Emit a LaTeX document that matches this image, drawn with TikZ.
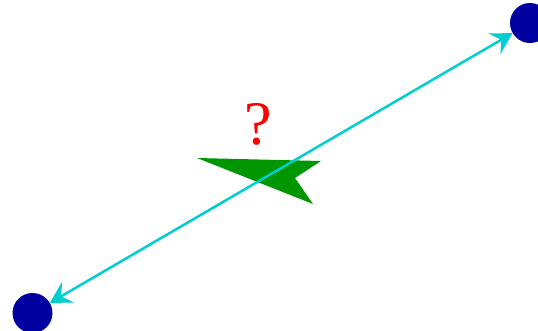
\documentclass[tikz,border=0pt]{standalone}
\usepackage{fontspec}
\usetikzlibrary{arrows.meta}
\newfontfamily\qfont{Liberation Serif}
\definecolor{dotblue}{HTML}{0000A0}
\definecolor{linkcyan}{HTML}{00CED1}
\definecolor{headgreen}{HTML}{009600}

\begin{document}
\begin{tikzpicture}[
  x=1pt, y=-1pt,
  dot/.style={circle, fill=dotblue, minimum size=40pt, inner sep=0pt},
  tip/.tip={Stealth[length=21pt,width=24pt,inset=8pt]},
  link/.style={draw=linkcyan, line width=2.5pt, tip-tip},
  qmark/.style={text=red, font=\qfont\fontsize{62}{64}\selectfont},
]
\useasboundingbox (0,0) rectangle (538,330);

% End points
\node[dot] (a) at (32.5,313) {};
\node[dot] (b) at (530,23) {};

% Green head
\fill[headgreen] (197,158) -- (321,161) -- (295,178) -- (313,204) -- cycle;

% Link
\draw[link] (a) -- (b);

% Question
\node[qmark] (q) at (258,124) {?};

\end{tikzpicture}
\end{document}
